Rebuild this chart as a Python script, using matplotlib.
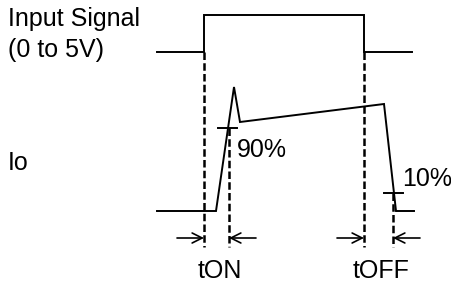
import matplotlib.pyplot as plt

# input signal waveform (time, level)
input_t = [157, 204, 204, 364, 364, 412]
input_v = [52, 52, 15, 15, 52, 52]

# output current Io waveform
io_t = [157, 216, 234, 240, 384, 396, 414]
io_v = [211, 211, 87, 122, 104, 211, 211]

# dashed timing markers: (x, top, bottom)
markers = [(204, 52, 247), (229, 128, 247), (364, 52, 247), (393, 193, 247)]

# level ticks: (x0, x1, y, label, label_x, label_y)
levels = [(218, 237, 128, '90%', 237, 150), (384, 403, 193, '10%', 402, 179)]

# measured intervals: (left edge, right edge, label)
intervals = [(204, 229, 'tON'), (364, 393, 'tOFF')]

plt.rcParams['font.family'] = ['Liberation Sans', 'DejaVu Sans']

fig = plt.figure(figsize=(4.52, 2.88), dpi=100)
ax = fig.add_axes([0, 0, 1, 1])
ax.set_xlim(0, 452)
ax.set_ylim(288, 0)
ax.axis('off')

fs = 18
lw = 1.4
ax.plot(input_t, input_v, color='black', lw=lw, solid_joinstyle='miter')
ax.plot(io_t, io_v, color='black', lw=lw, solid_joinstyle='miter')

for x, y0, y1 in markers:
    ax.plot([x, x], [y0, y1], color='black', lw=1.8, linestyle=(0, (3, 1.3)))

for x0, x1, y, lab, lx, ly in levels:
    ax.plot([x0, x1], [y, y], color='black', lw=lw)
    ax.text(lx, ly, lab, fontsize=fs, ha='left', va='center')

arrow_y = 238
arrow_len = 27
for xl, xr, lab in intervals:
    ax.annotate('', xy=(xl, arrow_y), xytext=(xl - arrow_len, arrow_y),
                arrowprops=dict(arrowstyle='->', lw=1.2, color='black',
                                shrinkA=0, shrinkB=0, mutation_scale=18))
    ax.annotate('', xy=(xr, arrow_y), xytext=(xr + arrow_len, arrow_y),
                arrowprops=dict(arrowstyle='->', lw=1.2, color='black',
                                shrinkA=0, shrinkB=0, mutation_scale=18))
    ax.text((xl + xr) / 2 + 3, 271, lab, fontsize=fs, ha='center', va='center')

ax.text(8, 19, 'Input Signal', fontsize=fs, ha='left', va='center')
ax.text(8, 50, '(0 to 5V)', fontsize=fs, ha='left', va='center')
ax.text(8, 163, 'Io', fontsize=fs, ha='left', va='center')

fig.savefig('out.png', dpi=100)
